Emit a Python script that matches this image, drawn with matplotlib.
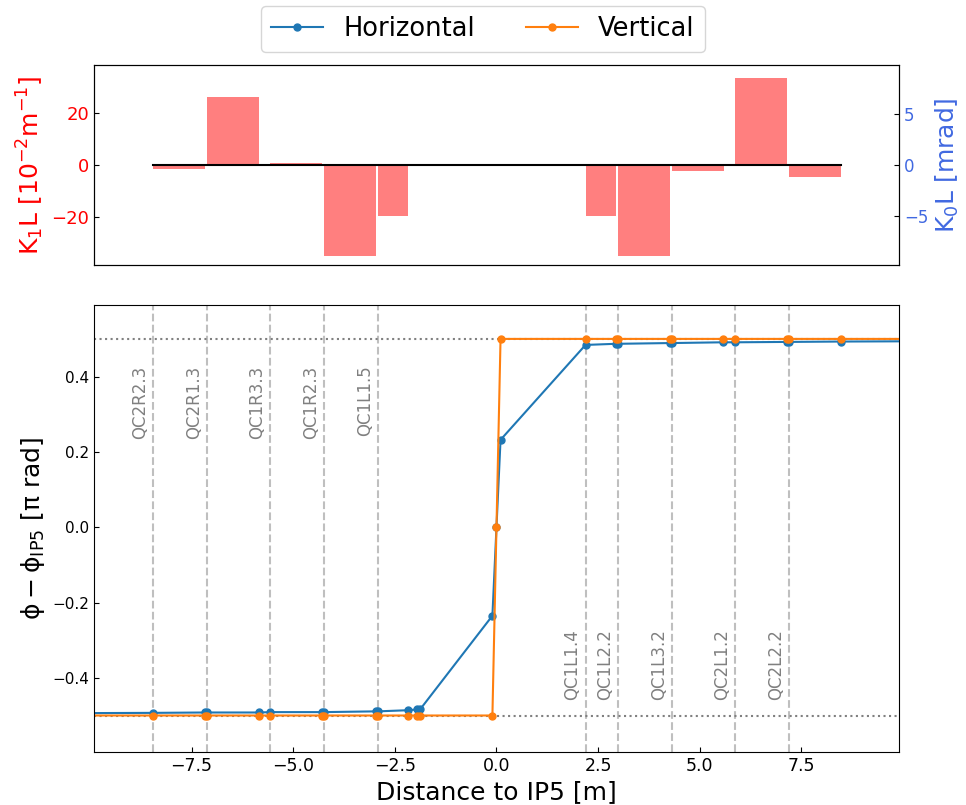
import matplotlib
matplotlib.use('Agg')
import matplotlib.pyplot as plt
import numpy as np

# quadrupoles around IP5
mag_names = ['QC2R2.3', 'QC2R1.3', 'QC1R3.3', 'QC1R2.3', 'QC1L1.5',
             'QC1L1.4', 'QC1L2.2', 'QC1L3.2', 'QC2L1.2', 'QC2L2.2']
mag_start = [-8.44, -7.12, -5.56, -4.24, -2.92, 2.19, 2.99, 4.31, 5.87, 7.19]
mag_length = [1.28, 1.28, 1.28, 1.28, 0.74, 0.74, 1.28, 1.28, 1.28, 1.28]
k1l = [-1.6, 26.0, 0.8, -34.9, -19.7, -19.7, -34.9, -2.4, 33.5, -4.6]  # 1e-2 m^-1

# phase advance relative to IP5 [pi rad]
s_phase = [-11.0, -8.44, -7.16, -7.12, -5.84, -5.56, -4.28, -4.24, -2.96, -2.92,
           -2.18, -1.95, -1.88, -0.1, 0.0, 0.1, 2.19, 2.93, 2.99, 4.27, 4.31,
           5.57, 5.87, 7.15, 7.19, 8.47, 11.0]
phase_h = [-0.494, -0.493, -0.492, -0.492, -0.492, -0.491, -0.491, -0.491, -0.489, -0.489,
           -0.486, -0.484, -0.484, -0.235, 0.0, 0.232, 0.484, 0.487, 0.487, 0.489, 0.489,
           0.491, 0.491, 0.492, 0.492, 0.493, 0.494]
phase_v = [-0.5, -0.5, -0.5, -0.5, -0.5, -0.5, -0.5, -0.5, -0.5, -0.5,
           -0.5, -0.5, -0.5, -0.5, 0.0, 0.5, 0.5, 0.5, 0.5, 0.5, 0.5,
           0.5, 0.5, 0.5, 0.5, 0.5, 0.5]

xlim = (-9.9, 9.9)

fig = plt.figure(figsize=(9.66, 8.05), dpi=100)
ax_k = fig.add_axes([0.0973, 0.6708, 0.8333, 0.2484])
ax_p = fig.add_axes([0.0973, 0.0658, 0.8333, 0.5553])

# --- strengths panel
ax_k.bar(mag_start, k1l, width=mag_length, align='edge', color='red', alpha=0.5)
ax_k.plot([mag_start[0], mag_start[-1] + mag_length[-1]], [0, 0], color='k', lw=1.5)
kmax = 1.1 * max(abs(v) for v in k1l)
ax_k.set_ylim(-kmax, kmax)
ax_k.set_xlim(*xlim)
ax_k.set_xticks([])
ax_k.set_ylabel(r'K$_1$L [10$^{-2}$m$^{-1}$]', color='red', fontsize=18)
ax_k.tick_params(axis='y', direction='in', labelsize=13, labelcolor='red')

ax_k0 = ax_k.twinx()
ax_k0.set_ylim(-9.75, 9.75)
ax_k0.set_yticks([-5, 0, 5])
ax_k0.set_ylabel(r'K$_0$L [mrad]', color='royalblue', fontsize=18)
ax_k0.tick_params(axis='y', direction='in', labelsize=12, labelcolor='royalblue')

# --- phase panel
for name, s in zip(mag_names, mag_start):
    ax_p.axvline(s, color='gray', ls='--', alpha=0.5)
    if s < 0:
        ax_p.text(s - 0.1, 0.43, name, rotation=90, ha='right', va='top',
                  color='gray', fontsize=12)
    else:
        ax_p.text(s - 0.1, -0.46, name, rotation=90, ha='right', va='bottom',
                  color='gray', fontsize=12)

ax_p.axhline(0.5, color='gray', ls=':')
ax_p.axhline(-0.5, color='gray', ls=':')
ax_p.plot(s_phase, phase_h, marker='o', ms=5, label='Horizontal')
ax_p.plot(s_phase, phase_v, marker='o', ms=5, label='Vertical')

ax_p.set_xlim(*xlim)
ax_p.set_ylim(-0.597, 0.59)
ax_p.set_xlabel('Distance to IP5 [m]', fontsize=18)
ax_p.set_ylabel(r'$\mathrm{\phi} - \mathrm{\phi}_{\mathrm{IP5}}$ [$\mathrm{\pi}$ rad]', fontsize=18)
ax_p.tick_params(axis='x', direction='in', labelsize=12.5)
ax_p.tick_params(axis='y', direction='in', labelsize=11)

handles, labels = ax_p.get_legend_handles_labels()
fig.legend(handles, labels, loc='upper center', bbox_to_anchor=(0.5, 1.009),
           ncol=2, fontsize=18.5)

fig.savefig('out.png', dpi=100)
